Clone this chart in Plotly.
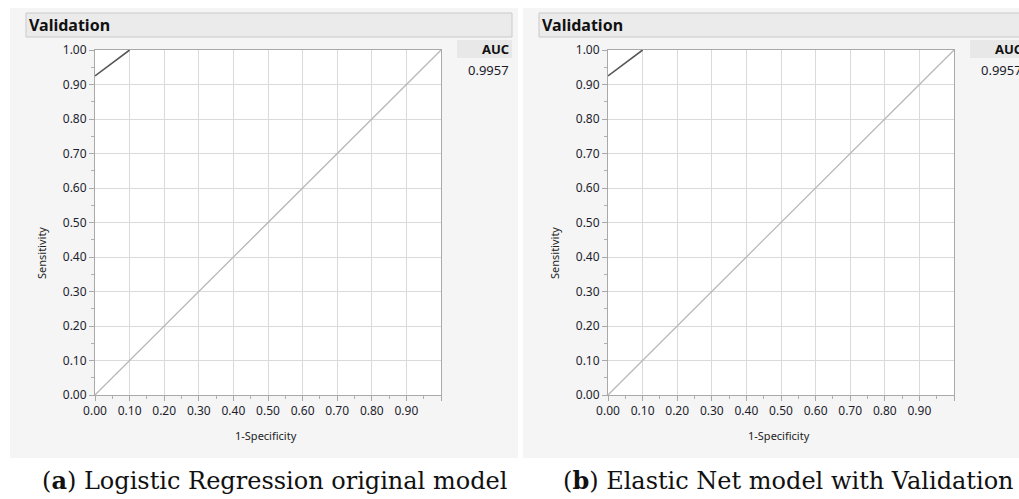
import plotly.graph_objects as go

W, H = 1019, 499

# ---- data ----
roc_fpr = [0.0, 0.10]
roc_tpr = [0.925, 1.0]
diag_x = [0.0, 1.0]
diag_y = [0.0, 1.0]
auc_value = "0.9957"
x_ticks = [0.0, 0.1, 0.2, 0.3, 0.4, 0.5, 0.6, 0.7, 0.8, 0.9, 1.0]
x_ticklabels = ["0.00", "0.10", "0.20", "0.30", "0.40", "0.50", "0.60", "0.70", "0.80", "0.90", ""]
y_ticks = [0.0, 0.1, 0.2, 0.3, 0.4, 0.5, 0.6, 0.7, 0.8, 0.9, 1.0]
y_ticklabels = ["0.00", "0.10", "0.20", "0.30", "0.40", "0.50", "0.60", "0.70", "0.80", "0.90", "1.00"]
captions = [("a", " Logistic Regression original model"),
            ("b", " Elastic Net model with Validation")]
panel_title = "Validation"


def px(x):
    return x / W


def py(y):
    return 1 - y / H


FONT = "Noto Sans"
offsets = [0, 513]
fig = go.Figure()
shapes = []
annotations = []

for i, off in enumerate(offsets):
    gl = 10 if i == 0 else 523
    gr = 518 if i == 0 else 1030
    shapes.append(dict(type="rect", xref="paper", yref="paper", x0=px(gl), x1=px(gr),
                       y0=py(458), y1=py(8), fillcolor="#f5f5f5", line=dict(width=0), layer="below"))
    shapes.append(dict(type="rect", xref="paper", yref="paper", x0=px(26 + off), x1=px(512 + off),
                       y0=py(37), y1=py(13), fillcolor="#ebebeb", line=dict(color="#c9c9c9", width=1), layer="below"))
    shapes.append(dict(type="rect", xref="paper", yref="paper", x0=px(457 + off), x1=px(512 + off),
                       y0=py(58), y1=py(40), fillcolor="#e8e8e8", line=dict(width=0), layer="below"))
    shapes.append(dict(type="rect", xref="paper", yref="paper", x0=px(95 + off), x1=px(441 + off),
                       y0=py(395), y1=py(50), fillcolor="#ffffff", line=dict(width=0), layer="below"))

    annotations.append(dict(text="<b>" + panel_title + "</b>", xref="paper", yref="paper",
                            x=px(27 + off), y=py(25), xanchor="left", yanchor="middle", showarrow=False,
                            font=dict(family=FONT, size=16, color="#111111")))
    annotations.append(dict(text="<b>AUC</b>", xref="paper", yref="paper",
                            x=px(511 + off), y=py(49), xanchor="right", yanchor="middle", showarrow=False,
                            font=dict(family=FONT, size=13, color="#111111")))
    annotations.append(dict(text=auc_value, xref="paper", yref="paper",
                            x=px(511 + off), y=py(70), xanchor="right", yanchor="middle", showarrow=False,
                            font=dict(family=FONT, size=13, color="#1a1a2a")))
    annotations.append(dict(text="1-Specificity", xref="paper", yref="paper",
                            x=px(266 + off), y=py(435), xanchor="center", yanchor="middle", showarrow=False,
                            font=dict(family=FONT, size=11, color="#222222")))
    annotations.append(dict(text="Sensitivity", xref="paper", yref="paper", textangle=-90,
                            x=px(42 + off), y=py(253), xanchor="center", yanchor="middle", showarrow=False,
                            font=dict(family=FONT, size=11, color="#222222")))
    letter, rest = captions[i]
    cx = 274 if i == 0 else 788
    annotations.append(dict(text="(<b>" + letter + "</b>)" + rest, xref="paper", yref="paper",
                            x=px(cx), y=py(480), xanchor="center", yanchor="middle", showarrow=False,
                            font=dict(family="DejaVu Serif", size=24, color="#111111")))

    xa = "x" if i == 0 else "x2"
    ya = "y" if i == 0 else "y2"
    fig.add_trace(go.Scatter(x=diag_x, y=diag_y, mode="lines", xaxis=xa, yaxis=ya,
                             line=dict(color="#b8b8b8", width=1.3), cliponaxis=False, showlegend=False,
                             hoverinfo="skip"))
    fig.add_trace(go.Scatter(x=roc_fpr, y=roc_tpr, mode="lines", xaxis=xa, yaxis=ya,
                             line=dict(color="#555555", width=1.6), cliponaxis=False, showlegend=False,
                             hoverinfo="skip"))

axis_common = dict(range=[0, 1], showline=True, mirror=True, linecolor="#a9a9a9", linewidth=1,
                   showgrid=True, gridcolor="#dadada", gridwidth=1, zeroline=False, automargin=False,
                   ticks="outside", ticklen=5, tickcolor="#a9a9a9", tickwidth=1,
                   tickfont=dict(family=FONT, size=12, color="#1e1e2e"), tickmode="array",
                   minor=dict(dtick=0.05, tick0=0, ticks="outside", ticklen=3, tickcolor="#b0b0b0",
                              showgrid=False),
                   fixedrange=True)

layout = dict(width=W, height=H, margin=dict(l=0, r=0, t=0, b=0, pad=0, autoexpand=False),
              template="none",
              paper_bgcolor="#ffffff", plot_bgcolor="rgba(0,0,0,0)",
              shapes=shapes, annotations=annotations, showlegend=False)

for i, off in enumerate(offsets):
    sx = "" if i == 0 else "2"
    layout["xaxis" + sx] = dict(axis_common, domain=[px(95 + off), px(441 + off)],
                                anchor="y" + sx, tickvals=x_ticks, ticktext=x_ticklabels)
    layout["yaxis" + sx] = dict(axis_common, domain=[py(395), py(50)],
                                anchor="x" + sx, tickvals=y_ticks, ticktext=y_ticklabels)

fig.update_layout(**layout)
fig.write_html("out.html", config={"displayModeBar": False},
               post_script="document.body.style.margin='0px';document.body.style.overflow='hidden';")
